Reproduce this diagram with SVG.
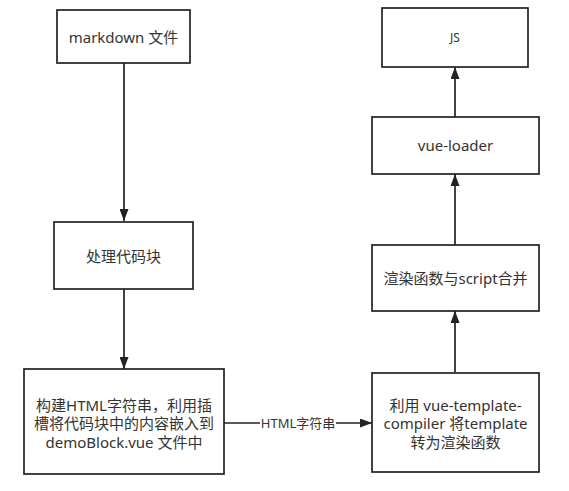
<svg xmlns="http://www.w3.org/2000/svg" width="569" height="491" viewBox="0 0 569 491">
<style>
.box{fill:#fff;stroke:#222;stroke-width:1.7}
.t{font-family:"Noto Sans","Noto Sans CJK SC",sans-serif;font-size:15px;fill:#333;text-anchor:middle;dominant-baseline:central}
.edge{stroke:#222;stroke-width:1.7;fill:none}
</style>
<defs>
<marker id="arr" viewBox="0 0 12 9" refX="12" refY="4.5" markerWidth="12" markerHeight="9" markerUnits="userSpaceOnUse" orient="auto">
<path d="M0,0 L12,4.5 L0,9 Z" fill="#222"/>
</marker>
</defs>
<rect width="569" height="491" fill="#fff"/>
<g id="connectors">
<line class="edge" x1="124" y1="63" x2="124" y2="221" marker-end="url(#arr)"/>
<line class="edge" x1="124" y1="289" x2="124" y2="369" marker-end="url(#arr)"/>
<line class="edge" x1="224" y1="423" x2="372" y2="423" marker-end="url(#arr)"/>
<rect x="260" y="414" width="76" height="18" fill="#fff"/>
<text class="t" x="298" y="423" style="font-size:13px">HTML字符串</text>
<line class="edge" x1="455" y1="372" x2="455" y2="311" marker-end="url(#arr)"/>
<line class="edge" x1="455" y1="245" x2="455" y2="174" marker-end="url(#arr)"/>
<line class="edge" x1="455" y1="117" x2="455" y2="67" marker-end="url(#arr)"/>
</g>
<g id="markdown">
<rect class="box" x="57" y="10" width="133" height="53"/>
<text class="t" x="123.5" y="37">markdown 文件</text>
</g>
<g id="process">
<rect class="box" x="54" y="222" width="139" height="67"/>
<text class="t" x="123.5" y="256">处理代码块</text>
</g>
<g id="build">
<rect class="box" x="24" y="369" width="200" height="105"/>
<text class="t" x="124" y="404.5">构建HTML字符串，利用插</text>
<text class="t" x="124" y="423">槽将代码块中的内容嵌入到</text>
<text class="t" x="124" y="441.5">demoBlock.vue 文件中</text>
</g>
<g id="compiler">
<rect class="box" x="372" y="373" width="167" height="99"/>
<text class="t" x="455.5" y="404.5">利用 vue-template-</text>
<text class="t" x="455.5" y="423">compiler 将template</text>
<text class="t" x="455.5" y="441.5">转为渲染函数</text>
</g>
<g id="merge">
<rect class="box" x="372" y="245" width="167" height="66"/>
<text class="t" x="455.5" y="278">渲染函数与script合并</text>
</g>
<g id="vueloader">
<rect class="box" x="372" y="117" width="167" height="57"/>
<text class="t" x="455.5" y="145">vue-loader</text>
</g>
<g id="js">
<rect class="box" x="382" y="8" width="146" height="59"/>
<text class="t" x="455" y="37" style="font-size:12px">JS</text>
</g>
</svg>
